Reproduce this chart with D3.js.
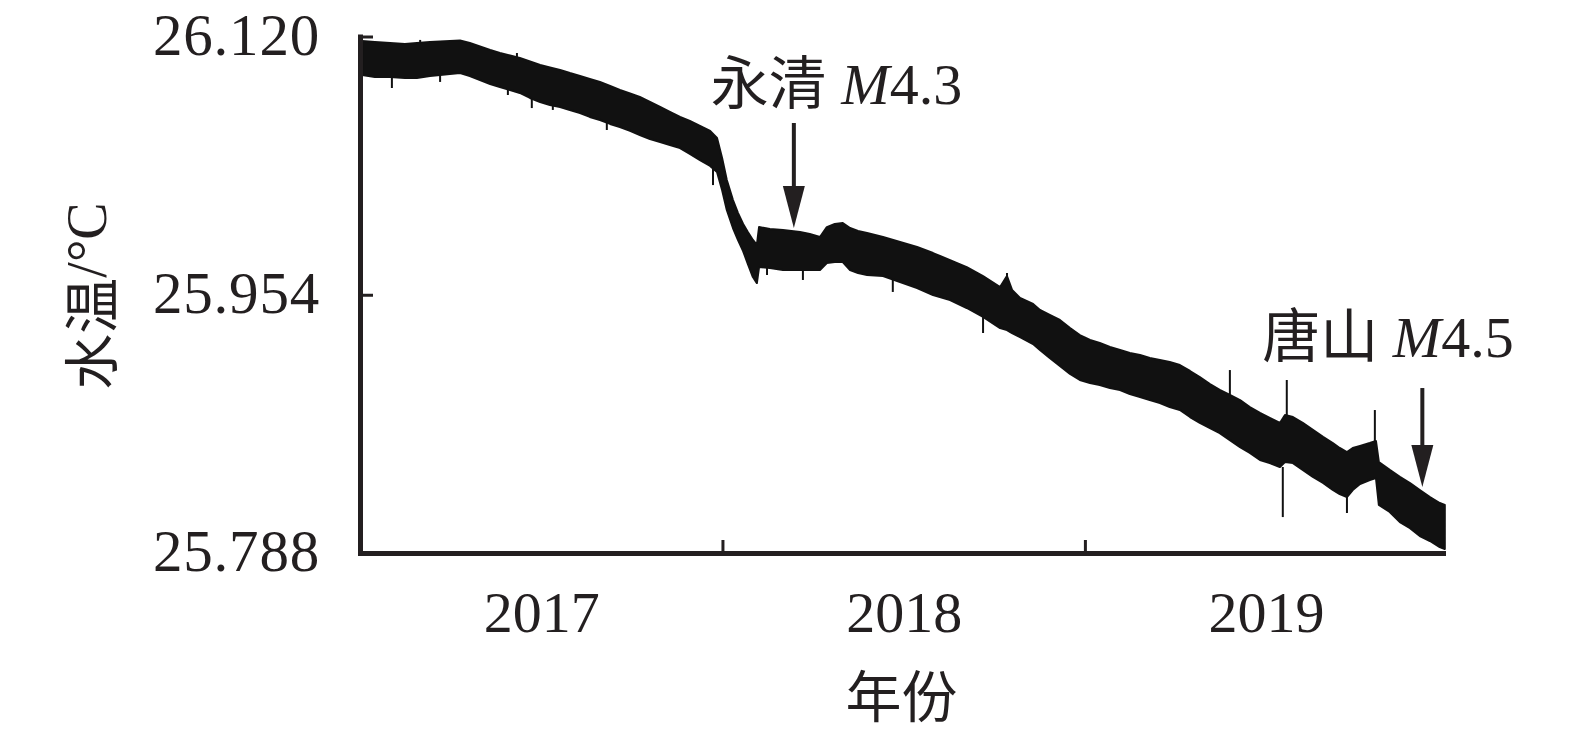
<!DOCTYPE html>
<html>
<head>
<meta charset="utf-8">
<script src="https://cdn.jsdelivr.net/npm/d3@7/dist/d3.min.js"></script>
<style>
  html, body { margin: 0; padding: 0; background: #fff; }
  svg { display: block; }
</style>
</head>
<body>
<svg id="chart" width="1575" height="738"></svg>
<script>
// ---------- data ----------
// decimal-year sample times of the recorded band
const times = [2017.006, 2017.041, 2017.083, 2017.124, 2017.157, 2017.193, 2017.221, 2017.248, 2017.276, 2017.303,
  2017.331, 2017.359, 2017.386, 2017.414, 2017.441, 2017.469, 2017.497, 2017.524, 2017.552, 2017.579,
  2017.607, 2017.634, 2017.662, 2017.690, 2017.717, 2017.745, 2017.772, 2017.800, 2017.828, 2017.855,
  2017.883, 2017.910, 2017.938, 2017.966, 2017.985, 2017.999, 2018.012, 2018.029, 2018.043, 2018.057,
  2018.070, 2018.084, 2018.095, 2018.101, 2018.131, 2018.167, 2018.214, 2018.241, 2018.269, 2018.288,
  2018.310, 2018.332, 2018.352, 2018.374, 2018.399, 2018.443, 2018.490, 2018.537, 2018.581, 2018.628,
  2018.674, 2018.719, 2018.766, 2018.785, 2018.799, 2018.821, 2018.857, 2018.876, 2018.903, 2018.931,
  2018.959, 2018.986, 2019.014, 2019.041, 2019.069, 2019.097, 2019.124, 2019.152, 2019.179, 2019.207,
  2019.234, 2019.262, 2019.290, 2019.317, 2019.345, 2019.372, 2019.400, 2019.428, 2019.455, 2019.483,
  2019.510, 2019.538, 2019.552, 2019.574, 2019.601, 2019.629, 2019.657, 2019.684, 2019.703, 2019.723,
  2019.739, 2019.759, 2019.786, 2019.803, 2019.811, 2019.841, 2019.869, 2019.897, 2019.924, 2019.952,
  2019.979, 2019.993];

// upper envelope of water temperature (°C)
const upper = [26.1171, 26.1165, 26.1158, 26.1152, 26.1158, 26.1165, 26.1168, 26.1171, 26.1174, 26.1158,
  26.1136, 26.1113, 26.1094, 26.1078, 26.1062, 26.1039, 26.1017, 26.1001, 26.0985, 26.0965,
  26.0946, 26.0927, 26.0908, 26.0882, 26.0856, 26.0834, 26.0811, 26.0779, 26.0747, 26.0715,
  26.0683, 26.0657, 26.0625, 26.0593, 26.0548, 26.0419, 26.0278, 26.0149, 26.0065, 25.9995,
  25.9943, 25.9892, 25.9860, 25.9975, 25.9963, 25.9956, 25.9943, 25.9930, 25.9911, 25.9975,
  25.9995, 26.0001, 25.9969, 25.9950, 25.9937, 25.9911, 25.9879, 25.9847, 25.9808, 25.9763,
  25.9718, 25.9660, 25.9590, 25.9660, 25.9571, 25.9519, 25.9481, 25.9442, 25.9410, 25.9378,
  25.9326, 25.9281, 25.9249, 25.9230, 25.9204, 25.9185, 25.9166, 25.9153, 25.9133, 25.9121,
  25.9108, 25.9088, 25.9050, 25.9011, 25.8966, 25.8928, 25.8896, 25.8863, 25.8818, 25.8780,
  25.8748, 25.8716, 25.8767, 25.8754, 25.8716, 25.8671, 25.8626, 25.8587, 25.8555, 25.8529,
  25.8555, 25.8568, 25.8587, 25.8600, 25.8465, 25.8414, 25.8369, 25.8330, 25.8285, 25.8240,
  25.8201, 25.8189];

// lower envelope of water temperature (°C)
const lower = [26.0953, 26.0940, 26.0940, 26.0933, 26.0933, 26.0946, 26.0953, 26.0959, 26.0965, 26.0946,
  26.0920, 26.0895, 26.0875, 26.0856, 26.0837, 26.0805, 26.0779, 26.0760, 26.0747, 26.0728,
  26.0708, 26.0683, 26.0663, 26.0638, 26.0618, 26.0593, 26.0567, 26.0541, 26.0522, 26.0503,
  26.0483, 26.0445, 26.0406, 26.0368, 26.0329, 26.0213, 26.0085, 25.9969, 25.9892, 25.9821,
  25.9738, 25.9654, 25.9615, 25.9718, 25.9712, 25.9699, 25.9699, 25.9699, 25.9699, 25.9744,
  25.9750, 25.9750, 25.9699, 25.9680, 25.9667, 25.9660, 25.9622, 25.9583, 25.9538, 25.9506,
  25.9455, 25.9397, 25.9326, 25.9313, 25.9294, 25.9268, 25.9223, 25.9185, 25.9133, 25.9082,
  25.9031, 25.8992, 25.8973, 25.8960, 25.8941, 25.8928, 25.8902, 25.8883, 25.8863, 25.8844,
  25.8818, 25.8799, 25.8754, 25.8716, 25.8683, 25.8651, 25.8606, 25.8561, 25.8523, 25.8478,
  25.8458, 25.8433, 25.8465, 25.8458, 25.8414, 25.8369, 25.8330, 25.8285, 25.8259, 25.8240,
  25.8285, 25.8323, 25.8349, 25.8362, 25.8189, 25.8144, 25.8079, 25.8040, 25.7989, 25.7957,
  25.7918, 25.7905];

// isolated spikes: time, from value, to value
const spikeTimes = [2017.088, 2017.166, 2017.221, 2017.408, 2017.433, 2017.474, 2017.532, 2017.681, 2017.974,
  2018.123, 2018.222, 2018.470, 2018.719, 2018.785, 2019.400, 2019.546, 2019.557, 2019.723, 2019.800];
const spikeFrom = [26.0940, 26.1158, 26.0953, 26.0860, 26.1065, 26.0800, 26.0755, 26.0645, 26.0360,
  25.9712, 25.9699, 25.9640, 25.9397, 25.9600, 25.8896, 25.8433, 25.8750, 25.8240, 25.8600];
const spikeTo = [26.0869, 26.1178, 26.0908, 26.0824, 26.1094, 26.0740, 26.0728, 26.0599, 26.0245,
  25.9667, 25.9635, 25.9558, 25.9294, 25.9680, 25.9056, 25.8111, 25.8992, 25.8137, 25.8799];

// axis ticks and labels
const yTicks = [25.788, 25.954, 26.120];
const xTickMarks = [2018, 2019];
const yearLabels = [2017, 2018, 2019];

// earthquake annotations: place name, magnitude, time and value of the arrow tip
const quakeNames = ["永清", "唐山"];
const quakeMags = ["4.3", "4.5"];
const quakeTimes = [2018.197, 2019.931];
const quakeValues = [25.9969, 25.8304];

// ---------- drawing ----------
if (times.length !== upper.length || times.length !== lower.length) {
  throw new Error("array length mismatch " + times.length + " " + upper.length + " " + lower.length);
}

const ink = "#231f20";
const serif = "'Liberation Serif', 'Times New Roman', 'Noto Sans CJK SC', serif";
const cjk = "'Noto Sans CJK SC', 'Liberation Serif', sans-serif";

const svg = d3.select("#chart");
svg.append("rect").attr("width", 1575).attr("height", 738).attr("fill", "#fff");

const x = d3.scaleLinear().domain([2017, 2019.988]).range([360, 1443]);
const y = d3.scaleLinear().domain([25.788, 26.120]).range([553, 36.5]);

const band = times.map((t, i) => ({ t, hi: upper[i], lo: lower[i] }));

const area = d3.area()
  .x(d => x(d.t))
  .y0(d => y(d.lo))
  .y1(d => y(d.hi));

svg.append("path")
  .datum(band)
  .attr("d", area)
  .attr("fill", "#111")
  .attr("stroke", "#111")
  .attr("stroke-width", 2)
  .attr("stroke-linejoin", "round");

svg.append("g")
  .selectAll("line")
  .data(spikeTimes.map((t, i) => ({ t, a: spikeFrom[i], b: spikeTo[i] })))
  .join("line")
  .attr("x1", d => x(d.t)).attr("x2", d => x(d.t))
  .attr("y1", d => y(d.a)).attr("y2", d => y(d.b))
  .attr("stroke", "#111")
  .attr("stroke-width", 2);

// y axis
const gy = svg.append("g")
  .attr("transform", "translate(360,0)")
  .call(d3.axisLeft(y).tickValues(yTicks).tickFormat(d3.format(".3f"))
    .tickSize(-13).tickSizeOuter(0).tickPadding(40));
gy.select(".domain").attr("stroke", ink).attr("stroke-width", 5).attr("stroke-linecap", "square");
gy.selectAll(".tick line").attr("stroke", ink).attr("stroke-width", 3);
gy.selectAll(".tick text")
  .attr("fill", ink)
  .attr("font-family", serif)
  .attr("font-size", 59)
  .attr("letter-spacing", 0.8)
  .attr("dy", "0.3em");

// x axis (tick marks only)
const gx = svg.append("g")
  .attr("transform", "translate(0,553)")
  .call(d3.axisBottom(x).tickValues(xTickMarks).tickFormat("")
    .tickSize(-13).tickSizeOuter(0));
gx.select(".domain").attr("stroke", ink).attr("stroke-width", 5).attr("stroke-linecap", "square");
gx.selectAll(".tick line").attr("stroke", ink).attr("stroke-width", 3);

// year labels centred in each year
const gl = svg.append("g")
  .attr("transform", "translate(0,553)")
  .call(d3.axisBottom(x).tickValues(yearLabels.map(v => v + 0.5))
    .tickFormat(d => String(Math.floor(d))).tickSize(0).tickSizeOuter(0));
gl.select(".domain").remove();
gl.selectAll(".tick text")
  .attr("fill", ink)
  .attr("font-family", serif)
  .attr("font-size", 58)
  .attr("y", 79)
  .attr("dy", 0);

// axis titles
svg.append("text")
  .attr("x", (x.range()[0] + x.range()[1]) / 2)
  .attr("y", 717)
  .attr("text-anchor", "middle")
  .attr("font-family", cjk)
  .attr("font-size", 56)
  .attr("fill", ink)
  .text("年份");

const yt = svg.append("text")
  .attr("transform", "translate(87,296) rotate(-90)")
  .attr("text-anchor", "middle")
  .attr("dominant-baseline", "central")
  .attr("font-size", 56)
  .attr("fill", ink);
yt.append("tspan").attr("font-family", cjk).text("水温");
yt.append("tspan").attr("font-family", serif).text("/°C");

// annotations
const labelDx = [-83, -160];
const labelDy = [-124, -130];
const tailLen = [105, 99];
quakeNames.forEach((name, i) => {
  const tx = x(quakeTimes[i]);
  const ty = y(quakeValues[i]);
  const headLen = 42, headW = 11;
  svg.append("line")
    .attr("x1", tx).attr("x2", tx)
    .attr("y1", ty - tailLen[i]).attr("y2", ty - headLen + 2)
    .attr("stroke", ink).attr("stroke-width", 4);
  svg.append("path")
    .attr("d", `M${tx - headW},${ty - headLen}L${tx + headW},${ty - headLen}L${tx},${ty}Z`)
    .attr("fill", ink);
  const t = svg.append("text")
    .attr("x", tx + labelDx[i])
    .attr("y", ty + labelDy[i])
    .attr("font-size", 58)
    .attr("fill", ink);
  t.append("tspan").attr("font-family", cjk).text(name);
  t.append("tspan").attr("font-family", serif).text(" ");
  t.append("tspan").attr("font-family", serif).attr("font-style", "italic").text("M");
  t.append("tspan").attr("font-family", serif).text(quakeMags[i]);
});
</script>
</body>
</html>
